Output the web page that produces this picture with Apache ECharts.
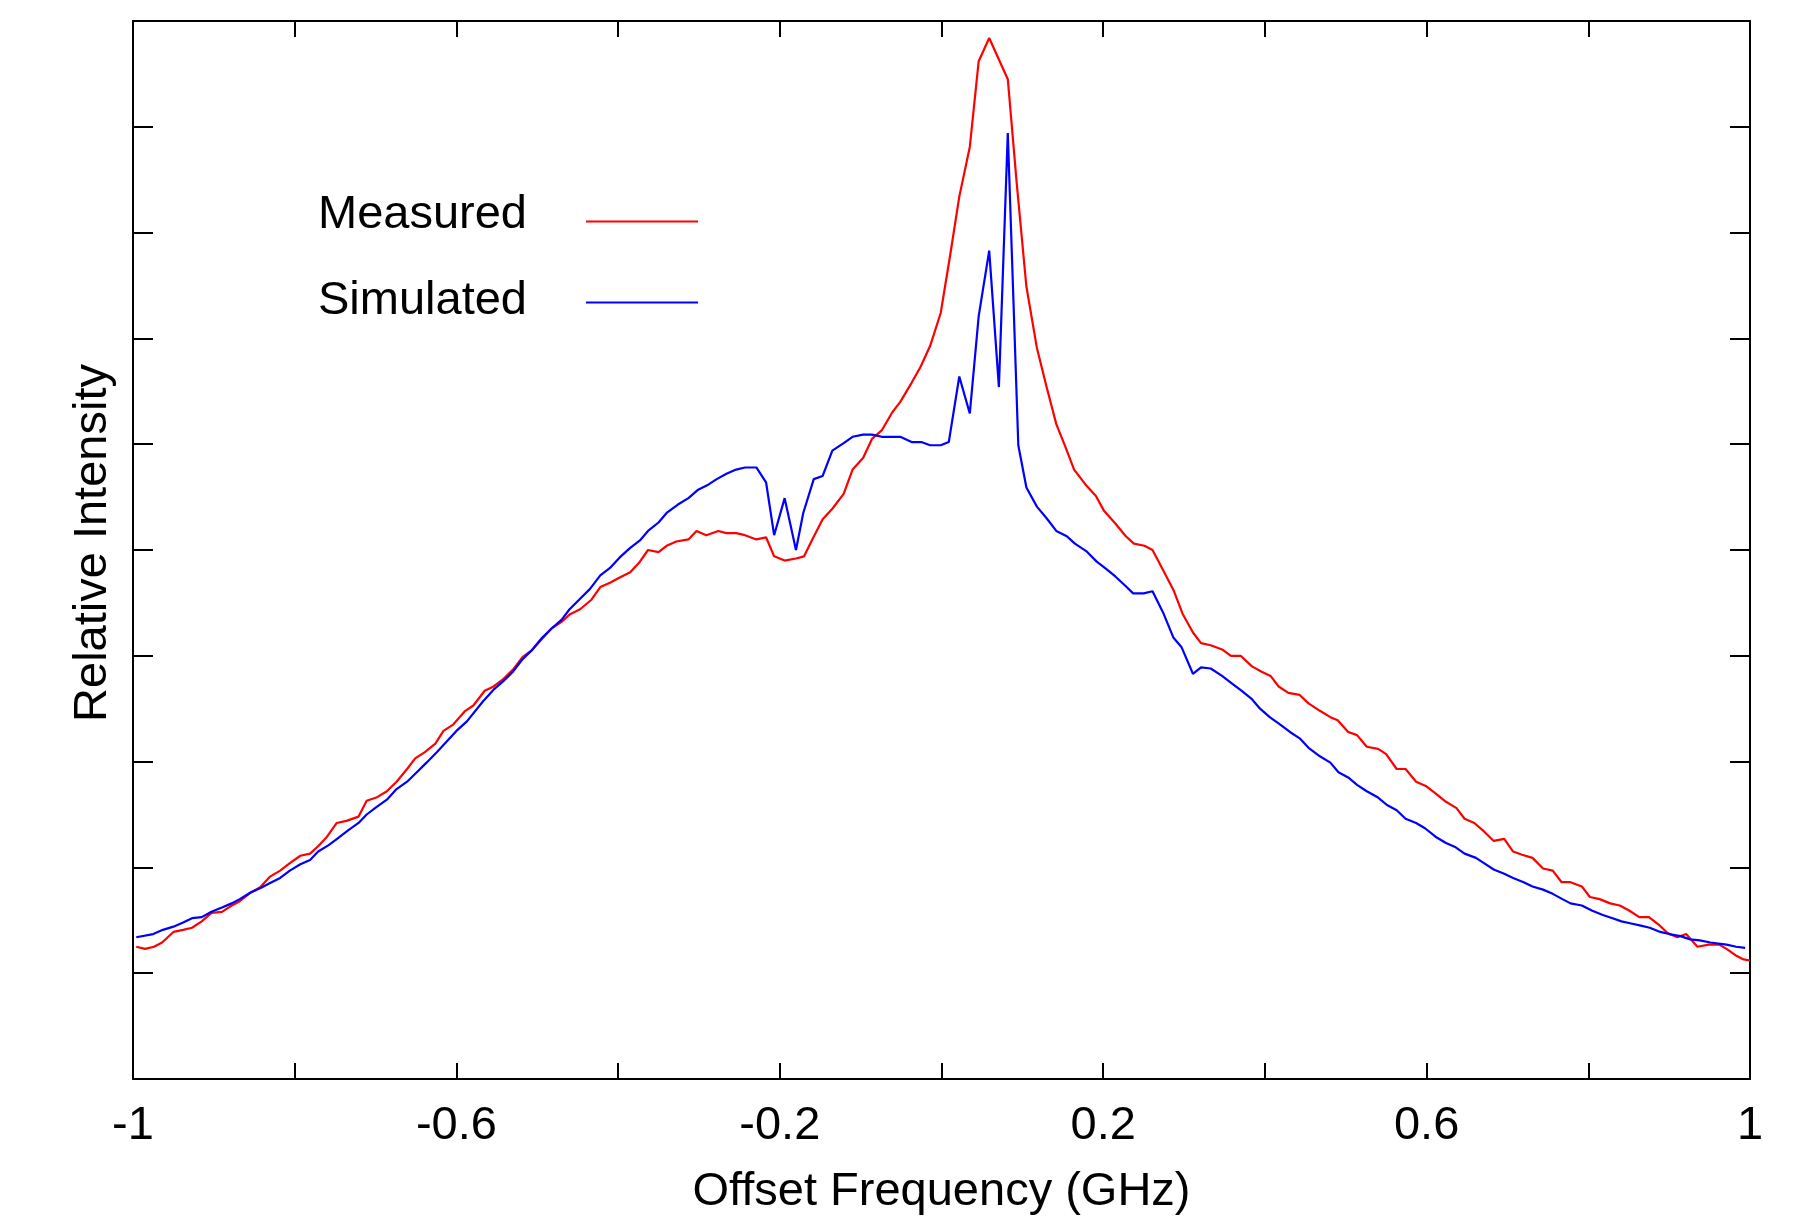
<!DOCTYPE html>
<html>
<head>
<meta charset="utf-8">
<script src="https://cdn.jsdelivr.net/npm/echarts@6/dist/echarts.min.js"></script>
<style>
html,body{margin:0;padding:0;background:#fff;}
#chart{width:1812px;height:1216px;}
</style>
</head>
<body>
<div id="chart"></div>
<script>
// Offset frequency (GHz) and relative intensity
const freqMeasured = [-0.996,-0.985,-0.974,-0.964,-0.950,-0.938,-0.927,-0.915,-0.903,-0.890,-0.880,-0.868,-0.855,-0.843,-0.831,-0.818,-0.806,-0.793,-0.781,-0.771,-0.760,-0.748,-0.736,-0.721,-0.711,-0.699,-0.686,-0.674,-0.661,-0.651,-0.639,-0.626,-0.616,-0.604,-0.589,-0.579,-0.565,-0.554,-0.542,-0.530,-0.518,-0.507,-0.494,-0.482,-0.470,-0.460,-0.447,-0.433,-0.422,-0.410,-0.398,-0.385,-0.373,-0.363,-0.350,-0.340,-0.328,-0.313,-0.303,-0.291,-0.276,-0.266,-0.254,-0.243,-0.229,-0.217,-0.207,-0.194,-0.180,-0.170,-0.159,-0.147,-0.135,-0.121,-0.110,-0.097,-0.086,-0.074,-0.061,-0.051,-0.037,-0.026,-0.014,-0.001,0.011,0.022,0.035,0.046,0.059,0.082,0.093,0.105,0.118,0.130,0.142,0.153,0.164,0.178,0.191,0.201,0.215,0.228,0.238,0.251,0.261,0.274,0.287,0.298,0.311,0.321,0.333,0.347,0.358,0.370,0.384,0.396,0.407,0.417,0.429,0.443,0.454,0.468,0.481,0.490,0.503,0.514,0.526,0.540,0.550,0.563,0.574,0.587,0.599,0.611,0.624,0.637,0.647,0.659,0.671,0.683,0.696,0.707,0.718,0.731,0.744,0.756,0.767,0.778,0.792,0.802,0.814,0.827,0.839,0.851,0.863,0.875,0.887,0.898,0.910,0.921,0.935,0.949,0.962,0.971,0.982,0.992,1.000];
const measured = [1.25,1.23,1.25,1.29,1.39,1.41,1.43,1.49,1.57,1.58,1.63,1.68,1.76,1.81,1.91,1.97,2.04,2.11,2.13,2.20,2.29,2.42,2.44,2.48,2.63,2.66,2.72,2.81,2.93,3.03,3.09,3.17,3.29,3.35,3.48,3.53,3.67,3.71,3.78,3.87,3.99,4.05,4.16,4.26,4.32,4.39,4.44,4.53,4.65,4.69,4.74,4.79,4.89,5.00,4.98,5.04,5.08,5.10,5.18,5.14,5.18,5.16,5.16,5.14,5.10,5.12,4.94,4.90,4.92,4.94,5.11,5.29,5.39,5.53,5.76,5.87,6.05,6.13,6.30,6.40,6.58,6.73,6.93,7.24,7.80,8.34,8.81,9.62,9.84,9.45,8.47,7.49,6.91,6.54,6.19,5.98,5.76,5.62,5.51,5.37,5.25,5.13,5.06,5.04,5.00,4.81,4.62,4.40,4.22,4.12,4.10,4.06,4.00,4.00,3.90,3.85,3.81,3.71,3.65,3.63,3.55,3.48,3.42,3.39,3.28,3.25,3.14,3.12,3.07,2.93,2.93,2.81,2.77,2.70,2.62,2.56,2.46,2.42,2.34,2.25,2.27,2.15,2.12,2.09,1.99,1.97,1.86,1.86,1.82,1.72,1.70,1.66,1.64,1.59,1.53,1.53,1.46,1.38,1.34,1.37,1.25,1.27,1.27,1.23,1.17,1.13,1.12];

const freqSimulated = [-0.996,-0.975,-0.963,-0.950,-0.938,-0.927,-0.915,-0.903,-0.890,-0.878,-0.868,-0.855,-0.841,-0.831,-0.818,-0.806,-0.793,-0.781,-0.771,-0.758,-0.746,-0.734,-0.721,-0.711,-0.699,-0.686,-0.674,-0.661,-0.649,-0.637,-0.624,-0.612,-0.600,-0.587,-0.567,-0.554,-0.542,-0.530,-0.519,-0.507,-0.494,-0.482,-0.470,-0.460,-0.447,-0.435,-0.422,-0.410,-0.398,-0.385,-0.373,-0.363,-0.350,-0.340,-0.326,-0.313,-0.301,-0.288,-0.278,-0.266,-0.254,-0.243,-0.229,-0.217,-0.207,-0.194,-0.180,-0.171,-0.158,-0.147,-0.135,-0.121,-0.110,-0.097,-0.086,-0.074,-0.051,-0.037,-0.025,-0.014,-0.001,0.009,0.022,0.035,0.046,0.059,0.071,0.082,0.095,0.105,0.118,0.130,0.142,0.155,0.165,0.179,0.192,0.204,0.215,0.229,0.237,0.250,0.261,0.274,0.287,0.297,0.311,0.321,0.333,0.347,0.359,0.371,0.384,0.394,0.406,0.419,0.431,0.443,0.454,0.468,0.481,0.491,0.503,0.514,0.526,0.540,0.551,0.563,0.574,0.587,0.598,0.611,0.624,0.636,0.647,0.661,0.671,0.683,0.696,0.707,0.720,0.731,0.744,0.756,0.768,0.778,0.792,0.805,0.818,0.830,0.841,0.853,0.865,0.876,0.889,0.900,0.914,0.926,0.938,0.951,0.971,0.983,0.994];
const simulated = [1.34,1.37,1.41,1.44,1.48,1.52,1.53,1.58,1.62,1.66,1.70,1.76,1.81,1.85,1.90,1.97,2.03,2.07,2.15,2.21,2.28,2.35,2.42,2.50,2.57,2.64,2.74,2.81,2.90,2.99,3.09,3.19,3.29,3.38,3.57,3.68,3.76,3.85,3.96,4.05,4.17,4.26,4.34,4.44,4.54,4.63,4.76,4.83,4.93,5.02,5.09,5.18,5.26,5.35,5.43,5.49,5.57,5.62,5.67,5.72,5.76,5.78,5.78,5.64,5.14,5.49,5.00,5.35,5.67,5.70,5.94,6.01,6.07,6.09,6.09,6.07,6.07,6.02,6.02,5.99,5.99,6.02,6.64,6.29,7.21,7.83,6.54,8.94,5.99,5.59,5.41,5.30,5.18,5.13,5.06,4.99,4.89,4.82,4.75,4.65,4.59,4.59,4.61,4.41,4.17,4.08,3.83,3.89,3.88,3.81,3.74,3.67,3.59,3.50,3.42,3.35,3.28,3.22,3.13,3.05,2.99,2.90,2.85,2.78,2.72,2.66,2.59,2.54,2.46,2.42,2.37,2.29,2.23,2.19,2.13,2.09,2.04,1.98,1.94,1.90,1.86,1.82,1.79,1.75,1.70,1.66,1.64,1.59,1.55,1.52,1.49,1.47,1.45,1.43,1.39,1.37,1.35,1.32,1.31,1.29,1.27,1.25,1.24];

const xTickValues = [-1, -0.6, -0.2, 0.2, 0.6, 1];
const xTickLabels = ['-1', '-0.6', '-0.2', '0.2', '0.6', '1'];

const FONT = 'Liberation Sans, Arial, sans-serif';
const zip = (xs, ys) => xs.map((x, i) => [x, ys[i]]);

const axisLine = { show: true, onZero: false, lineStyle: { color: '#000', width: 2 } };
function makeLegend(name, top, padBottom) {
  return {
    orient: 'vertical',
    left: 318,
    top: top,
    padding: 0,
    align: 'right',
    itemWidth: 112,
    itemHeight: 14,
    itemStyle: { opacity: 0 },
    formatter: n => '{t|' + n + '}',
    textStyle: {
      fontSize: 47, fontFamily: FONT, color: '#000', padding: [0, 54, 0, 0],
      rich: {
        t: { fontSize: 47, fontFamily: FONT, color: '#000', padding: [0, 0, padBottom, 0] }
      }
    },
    data: [name]
  };
}
const chart = echarts.init(document.getElementById('chart'), null, { renderer: 'canvas' });
chart.setOption({
  animation: false,
  backgroundColor: '#fff',
  grid: { left: 133, right: 62, top: 21, bottom: 137, containLabel: false, outerBoundsMode: 'none' },
  legend: [
    makeLegend('Measured', 192, 12),
    makeLegend('Simulated', 278, 2)
  ],
  xAxis: [
    {
      type: 'value', min: -1, max: 1, interval: 0.2, position: 'bottom',
      axisLine: axisLine,
      axisTick: { show: true, inside: true, length: 16, lineStyle: { color: '#000', width: 2 } },
      splitLine: { show: false },
      axisLabel: {
        show: true, margin: 24, fontSize: 47, fontFamily: FONT, color: '#000',
        formatter: v => { const i = xTickValues.findIndex(t => Math.abs(t - v) < 1e-6); return i >= 0 ? xTickLabels[i] : ''; }
      },
      name: 'Offset Frequency (GHz)', nameLocation: 'middle', nameGap: 90,
      nameTextStyle: { fontSize: 47, fontFamily: FONT, color: '#000' }
    },
    {
      type: 'value', min: -1, max: 1, interval: 0.2, position: 'top',
      axisLine: axisLine,
      axisTick: { show: true, inside: true, length: 16, lineStyle: { color: '#000', width: 2 } },
      splitLine: { show: false }, axisLabel: { show: false }
    }
  ],
  yAxis: [
    {
      type: 'value', min: 0, max: 10, interval: 1, position: 'left',
      axisLine: axisLine,
      axisTick: { show: true, inside: true, length: 20, lineStyle: { color: '#000', width: 2 } },
      splitLine: { show: false }, axisLabel: { show: false },
      name: 'Relative Intensity', nameLocation: 'middle', nameGap: 16, nameRotate: 90,
      nameTextStyle: { fontSize: 47, fontFamily: FONT, color: '#000', padding: [0, 0, 0, 14] }
    },
    {
      type: 'value', min: 0, max: 10, interval: 1, position: 'right',
      axisLine: axisLine,
      axisTick: { show: true, inside: true, length: 20, lineStyle: { color: '#000', width: 2 } },
      splitLine: { show: false }, axisLabel: { show: false }
    }
  ],
  series: [
    {
      name: 'Measured', type: 'line', xAxisIndex: 0, yAxisIndex: 0,
      symbol: 'none', color: '#ff0000',
      lineStyle: { color: '#ff0000', width: 2.2 },
      data: zip(freqMeasured, measured)
    },
    {
      name: 'Simulated', type: 'line', xAxisIndex: 0, yAxisIndex: 0,
      symbol: 'none', color: '#0000ff',
      lineStyle: { color: '#0000ff', width: 2.2 },
      data: zip(freqSimulated, simulated)
    }
  ]
});
</script>
</body>
</html>
